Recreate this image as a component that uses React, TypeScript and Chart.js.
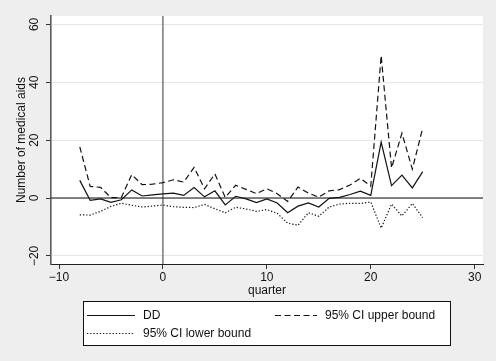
import React, { useEffect, useRef } from 'react';
import { Chart, registerables } from 'chart.js';

Chart.register(...registerables);

const quarters = [-8, -7, -6, -5, -4, -3, -2, -1, 0, 1, 2, 3, 4, 5, 6, 7, 8, 9, 10, 11, 12, 13, 14, 15, 16, 17, 18, 19, 20, 21, 22, 23, 24, 25];
const ddValues = [6.1, -0.8, -0.3, -1.5, -0.6, 2.8, 0.7, 1.1, 1.4, 1.7, 0.9, 3.6, 0.4, 2.5, -2.4, 0.6, -0.3, -1.6, -0.3, -1.7, -5.1, -2.8, -1.7, -3.1, -0.1, 0.2, 1.2, 2.4, 0.9, 19.3, 4.3, 7.9, 3.5, 9.1];
const upperValues = [17.7, 4.0, 3.7, 0.1, 0.2, 8.1, 4.6, 4.8, 5.3, 6.3, 5.5, 10.6, 3.2, 8.3, 0.2, 4.4, 3.0, 1.5, 3.2, 1.5, -1.2, 3.8, 1.7, 0.3, 2.5, 2.9, 4.5, 6.8, 4.1, 49.2, 10.4, 22.4, 10.0, 24.2];
const lowerValues = [-5.8, -5.9, -4.6, -2.9, -1.8, -2.5, -3.1, -2.8, -2.4, -3.0, -3.2, -3.3, -2.2, -3.7, -5.1, -3.2, -3.8, -4.6, -4.0, -5.3, -8.7, -9.4, -5.1, -6.3, -3.1, -2.1, -1.8, -1.9, -1.4, -10.4, -2.1, -6.2, -1.9, -6.8];

const xTickValues = [-10, 0, 10, 20, 30];
const yTickValues = [-20, 0, 20, 40, 60];
const seriesLabels = ['DD', '95% CI upper bound', '95% CI lower bound'];
const xTitle = 'quarter';
const yTitle = 'Number of medical aids';

const FONT = '"Liberation Sans", Arial, Helvetica, sans-serif';
const fmt = (v: number) => (v < 0 ? '\u2212' + Math.abs(v) : String(v));

const stataPlugin = {
  id: 'stataDecor',
  beforeDraw(chart: any) {
    const { ctx, chartArea, width, height } = chart;
    ctx.save();
    ctx.fillStyle = '#eeeeee';
    ctx.fillRect(0, 0, width, height);
    ctx.fillStyle = '#ffffff';
    ctx.fillRect(chartArea.left, chartArea.top, chartArea.right - chartArea.left, chartArea.bottom - chartArea.top);
    ctx.restore();
  },
  beforeDatasetsDraw(chart: any) {
    const { ctx, chartArea, scales } = chart;
    const x0 = scales.x.getPixelForValue(0);
    const y0 = scales.y.getPixelForValue(0);
    ctx.save();
    ctx.strokeStyle = '#6e6e6e';
    ctx.lineWidth = 1.4;
    ctx.beginPath();
    ctx.moveTo(x0, chartArea.top);
    ctx.lineTo(x0, chartArea.bottom);
    ctx.stroke();
    ctx.strokeStyle = '#111111';
    ctx.lineWidth = 1.1;
    ctx.beginPath();
    ctx.moveTo(chartArea.left, y0);
    ctx.lineTo(chartArea.right, y0);
    ctx.stroke();
    ctx.restore();
  },
  afterDraw(chart: any) {
    const { ctx, chartArea, scales } = chart;
    ctx.save();
    ctx.fillStyle = '#111111';
    ctx.font = `12px ${FONT}`;
    ctx.textAlign = 'center';
    ctx.textBaseline = 'middle';
    // y tick labels (rotated)
    yTickValues.forEach((v) => {
      const y = scales.y.getPixelForValue(v);
      ctx.save();
      ctx.translate(35, y);
      ctx.rotate(-Math.PI / 2);
      ctx.fillText(fmt(v), 0, 0);
      ctx.restore();
    });
    // y title
    ctx.save();
    ctx.translate(22, (chartArea.top + chartArea.bottom) / 2);
    ctx.rotate(-Math.PI / 2);
    ctx.fillText(yTitle, 0, 0);
    ctx.restore();
    // x title
    ctx.fillText(xTitle, (chartArea.left + chartArea.right) / 2, 291);

    // legend
    const bx = 83.5, by = 301.5, bw = 367, bh = 44;
    ctx.fillStyle = '#ffffff';
    ctx.fillRect(bx, by, bw, bh);
    ctx.strokeStyle = '#111111';
    ctx.lineWidth = 1;
    ctx.strokeRect(bx, by, bw, bh);
    const items = chart.data.datasets.map((d: any, i: number) => ({
      label: d.label,
      dash: d.borderDash || [],
      pos: [
        { lx: 87, lw: 48, tx: 143, y: 315 },
        { lx: 275, lw: 42, tx: 325, y: 315 },
        { lx: 87, lw: 48, tx: 143, y: 333 },
      ][i],
    }));
    items.forEach((it: any) => {
      ctx.save();
      ctx.strokeStyle = '#111111';
      ctx.lineWidth = 1.2;
      ctx.setLineDash(it.dash);
      ctx.beginPath();
      ctx.moveTo(it.pos.lx, it.pos.y + 0.5);
      ctx.lineTo(it.pos.lx + it.pos.lw, it.pos.y + 0.5);
      ctx.stroke();
      ctx.restore();
      ctx.fillStyle = '#111111';
      ctx.textAlign = 'left';
      ctx.textBaseline = 'middle';
      ctx.font = `12px ${FONT}`;
      ctx.fillText(it.label, it.pos.tx, it.pos.y + 1);
    });
    ctx.restore();
  },
};

export default function App() {
  const ref = useRef<HTMLCanvasElement | null>(null);
  useEffect(() => {
    document.body.style.margin = '0';
    const canvas = ref.current;
    if (!canvas) return;
    const mk = (vals: number[]) => quarters.map((q, i) => ({ x: q, y: vals[i] }));
    const base = { borderColor: '#111111', borderWidth: 1.2, pointRadius: 0, tension: 0, fill: false };
    const chart = new Chart(canvas, {
      type: 'line',
      data: {
        datasets: [
          { ...base, label: seriesLabels[0], data: mk(ddValues), borderDash: [] },
          { ...base, label: seriesLabels[1], data: mk(upperValues), borderDash: [6, 3.5] },
          { ...base, label: seriesLabels[2], data: mk(lowerValues), borderDash: [1.3, 1.9] },
        ],
      },
      options: {
        animation: false,
        responsive: false,
        maintainAspectRatio: false,
        layout: { padding: { left: 0, top: 16, right: 13, bottom: 0 } },
        plugins: { legend: { display: false }, tooltip: { enabled: false }, title: { display: false } },
        scales: {
          x: {
            type: 'linear',
            min: -10.77,
            max: 30.8,
            afterBuildTicks: (s: any) => { s.ticks = xTickValues.map((v) => ({ value: v })); },
            afterFit: (s: any) => { s.height = 97; },
            ticks: {
              callback: (v: any) => fmt(Number(v)),
              color: '#111111',
              font: { family: FONT, size: 12 },
              padding: 1,
              maxRotation: 0,
              autoSkip: false,
            },
            grid: { drawOnChartArea: false, drawTicks: true, tickLength: 5, tickColor: '#333333' },
            border: { display: true, color: '#222222', width: 1 },
          },
          y: {
            type: 'linear',
            min: -22.8,
            max: 62.9,
            afterBuildTicks: (s: any) => { s.ticks = yTickValues.map((v) => ({ value: v })); },
            afterFit: (s: any) => { s.width = 51; },
            ticks: { display: false },
            grid: { color: '#e6e6e6', lineWidth: 1, drawTicks: true, tickLength: 5, tickColor: '#333333' },
            border: { display: true, color: '#5a5a5a', width: 1.6 },
          },
        },
      },
      plugins: [stataPlugin],
    } as any);
    return () => chart.destroy();
  }, []);
  return (
    <div style={{ width: 496, height: 361, background: '#eeeeee' }}>
      <canvas ref={ref} width={496} height={361} style={{ display: 'block' }} />
    </div>
  );
}
